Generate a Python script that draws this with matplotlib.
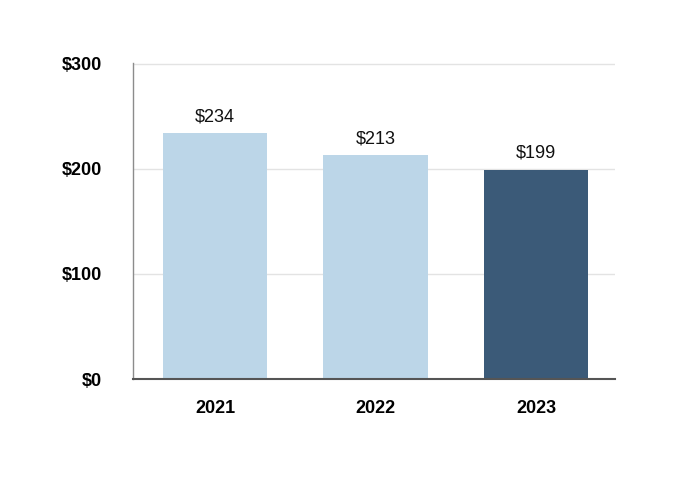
import matplotlib
matplotlib.use("Agg")
import matplotlib.pyplot as plt

years = ["2021", "2022", "2023"]
values = [234, 213, 199]
colors = ["#BCD6E8", "#BCD6E8", "#3B5A78"]
yticks = [0, 100, 200, 300]
ytick_labels = ["$0", "$100", "$200", "$300"]

plt.rcParams['font.family'] = ['Liberation Sans', 'DejaVu Sans']

fig = plt.figure(figsize=(6.8, 4.8), dpi=100)
ax = fig.add_axes([133/680, 1-379/480, (615-133)/680, (379-63)/480])

x = range(len(years))
bars = ax.bar(x, values, width=0.65, color=colors, zorder=2)
for xi, v in zip(x, values):
    ax.annotate(f"${v}", (xi, v), xytext=(0, 8.5), textcoords="offset points",
                ha="center", va="baseline", fontsize=13, color="#111111")

ax.set_xlim(-0.51, 2.49)
ax.set_ylim(0, 300.5)
ax.set_yticks(yticks)
ax.set_yticklabels(ytick_labels, fontsize=13, fontweight="bold")
ax.set_xticks(list(x))
ax.set_xticklabels(years, fontsize=13, fontweight="bold")
ax.tick_params(axis="y", length=0, pad=22.5)
ax.tick_params(axis="x", length=0, pad=15)
ax.yaxis.grid(True, color="#E3E3E3", linewidth=1, zorder=0)
ax.set_axisbelow(True)
for s in ["top", "right"]:
    ax.spines[s].set_visible(False)
ax.spines["left"].set_color("#8C8C8C")
ax.spines["left"].set_linewidth(1)
ax.spines["bottom"].set_color("#555555")
ax.spines["bottom"].set_linewidth(1.5)

fig.savefig("out.png", dpi=100)
